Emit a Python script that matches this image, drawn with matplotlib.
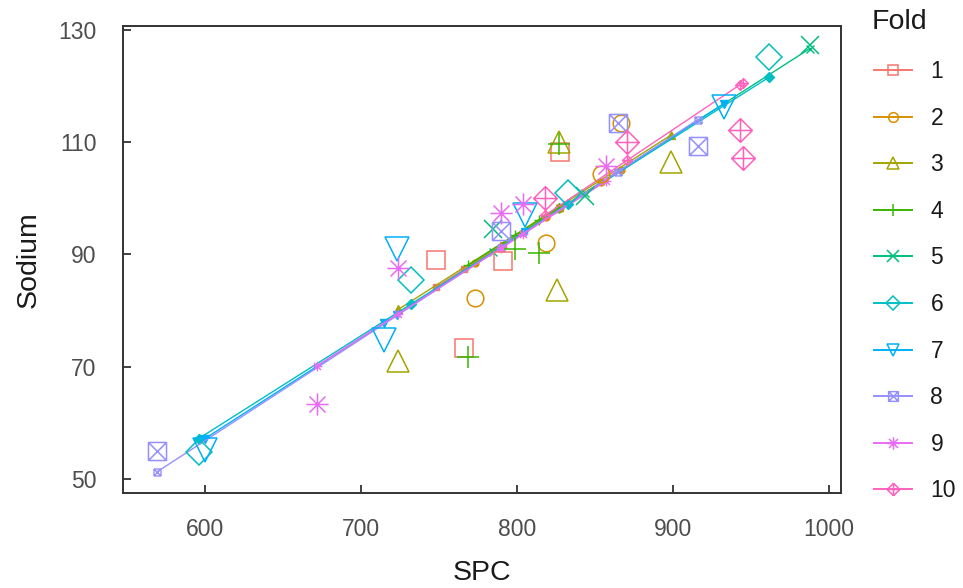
import numpy as np
import matplotlib
matplotlib.use("Agg")
import matplotlib.pyplot as plt
from matplotlib.path import Path
from matplotlib.lines import Line2D

plt.rcParams['font.family'] = ['Liberation Sans', 'DejaVu Sans']

# ---- data ----
fold_labels = ["1", "2", "3", "4", "5", "6", "7", "8", "9", "10"]
colors = ["#F8766D", "#D89000", "#A3A500", "#39B600", "#00BF7D",
          "#00BFC4", "#00B0F6", "#9590FF", "#E76BF3", "#FF62BC"]

spc = {
    "1": [748, 791, 828, 766],
    "2": [773, 819, 867, 854],
    "3": [899, 826, 724, 827],
    "4": [827, 814, 799, 769],
    "5": [988, 844, 785],
    "6": [962, 732, 833, 596],
    "7": [723, 715, 600, 933, 805],
    "8": [569, 865, 916, 790],
    "9": [672, 724, 790, 804, 857],
    "10": [818, 943, 945, 871],
}
sodium = {
    "1": [89.0, 88.8, 108.2, 73.4],
    "2": [82.3, 92.1, 113.4, 104.3],
    "3": [106.4, 83.7, 71.0, 110.0],
    "4": [109.6, 90.2, 91.0, 71.8],
    "5": [127.3, 100.4, 94.5],
    "6": [125.2, 85.5, 101.0, 54.8],
    "7": [90.9, 74.8, 55.2, 116.2, 97.0],
    "8": [55.0, 113.4, 109.3, 94.1],
    "9": [63.4, 87.5, 97.3, 98.9, 105.7],
    "10": [100.0, 112.1, 107.1, 110.0],
}

# ---- markers (R pch 0..9 look-alikes) ----
def seg_path(segs):
    verts, codes = [], []
    for (a, b) in segs:
        verts += [a, b]
        codes += [Path.MOVETO, Path.LINETO]
    return Path(verts, codes)

sq = [((-1, -1), (1, -1)), ((1, -1), (1, 1)), ((1, 1), (-1, 1)), ((-1, 1), (-1, -1))]
sqx = seg_path(sq + [((-1, -1), (1, 1)), ((-1, 1), (1, -1))])
r = 0.72
ast = seg_path([((-1, 0), (1, 0)), ((0, -1), (0, 1)),
                ((-r, -r), (r, r)), ((-r, r), (r, -r))])
dia = [((0, 1), (1, 0)), ((1, 0), (0, -1)), ((0, -1), (-1, 0)), ((-1, 0), (0, 1))]
diap = seg_path(dia + [((-1, 0), (1, 0)), ((0, -1), (0, 1))])

markers = ['s', 'o', '^', '+', 'x', 'D', 'v', sqx, ast, diap]
msizes = [13, 12, 16, 16, 13, 13, 17, 13, 16, 17]
small = [5, 5, 6, 7, 6, 5, 6, 5, 7, 7]

fig = plt.figure(figsize=(9.63, 5.88), dpi=100)
ax = fig.add_axes([123/963, 1-493/588, (841-123)/963, (493-26)/588])

all_x = np.concatenate([spc[k] for k in fold_labels]).astype(float)
all_y = np.concatenate([sodium[k] for k in fold_labels]).astype(float)
fold_id = np.concatenate([[i]*len(spc[k]) for i, k in enumerate(fold_labels)])

handles = []
for i, k in enumerate(fold_labels):
    x = np.array(spc[k], float)
    y = np.array(sodium[k], float)
    train = fold_id != i
    b, a = np.polyfit(all_x[train], all_y[train], 1)
    order = np.argsort(x)
    xs = x[order]
    pred = a + b * xs
    ax.plot(xs, pred, color=colors[i], lw=1.0, marker=markers[i],
            ms=small[i], mfc=colors[i], mec=colors[i], mew=1.0, zorder=2)
    ax.plot(x, y, linestyle='none', marker=markers[i], ms=msizes[i],
            mfc='none', mec=colors[i], mew=1.1, zorder=3)
    handles.append(Line2D([], [], color=colors[i], lw=1.4, marker=markers[i],
                          ms=small[i] + 2, mfc='none', mec=colors[i], mew=1.1))

ax.set_xlim(547.4, 1008)
ax.set_ylim(47.5, 130.7)
ax.set_xticks([600, 700, 800, 900, 1000])
ax.set_yticks([50, 70, 90, 110, 130])
ax.tick_params(direction='in', length=6, width=1.3, colors='#333333',
               labelcolor='#4D4D4D', labelsize=16.5)
ax.tick_params(axis='x', pad=18)
ax.tick_params(axis='y', pad=19)
for s in ax.spines.values():
    s.set_color('#333333')
    s.set_linewidth(1.4)
ax.set_xlabel("SPC", fontsize=20.5, color='#1A1A1A', labelpad=14)
ax.set_ylabel("Sodium", fontsize=20.5, color='#1A1A1A', labelpad=12)

leg = fig.legend(handles, fold_labels, loc='upper left',
                 bbox_to_anchor=(874/963, 1-60/588), frameon=False,
                 fontsize=16.5, handlelength=1.66, labelspacing=1.03,
                 handletextpad=0.8, borderpad=0.0, borderaxespad=0.0)
for t in leg.get_texts():
    t.set_color('#1A1A1A')
fig.text(872/963, 1-22/588, "Fold", fontsize=20.5, color='#1A1A1A',
         ha='left', va='center')

fig.savefig("out.png", dpi=100)
